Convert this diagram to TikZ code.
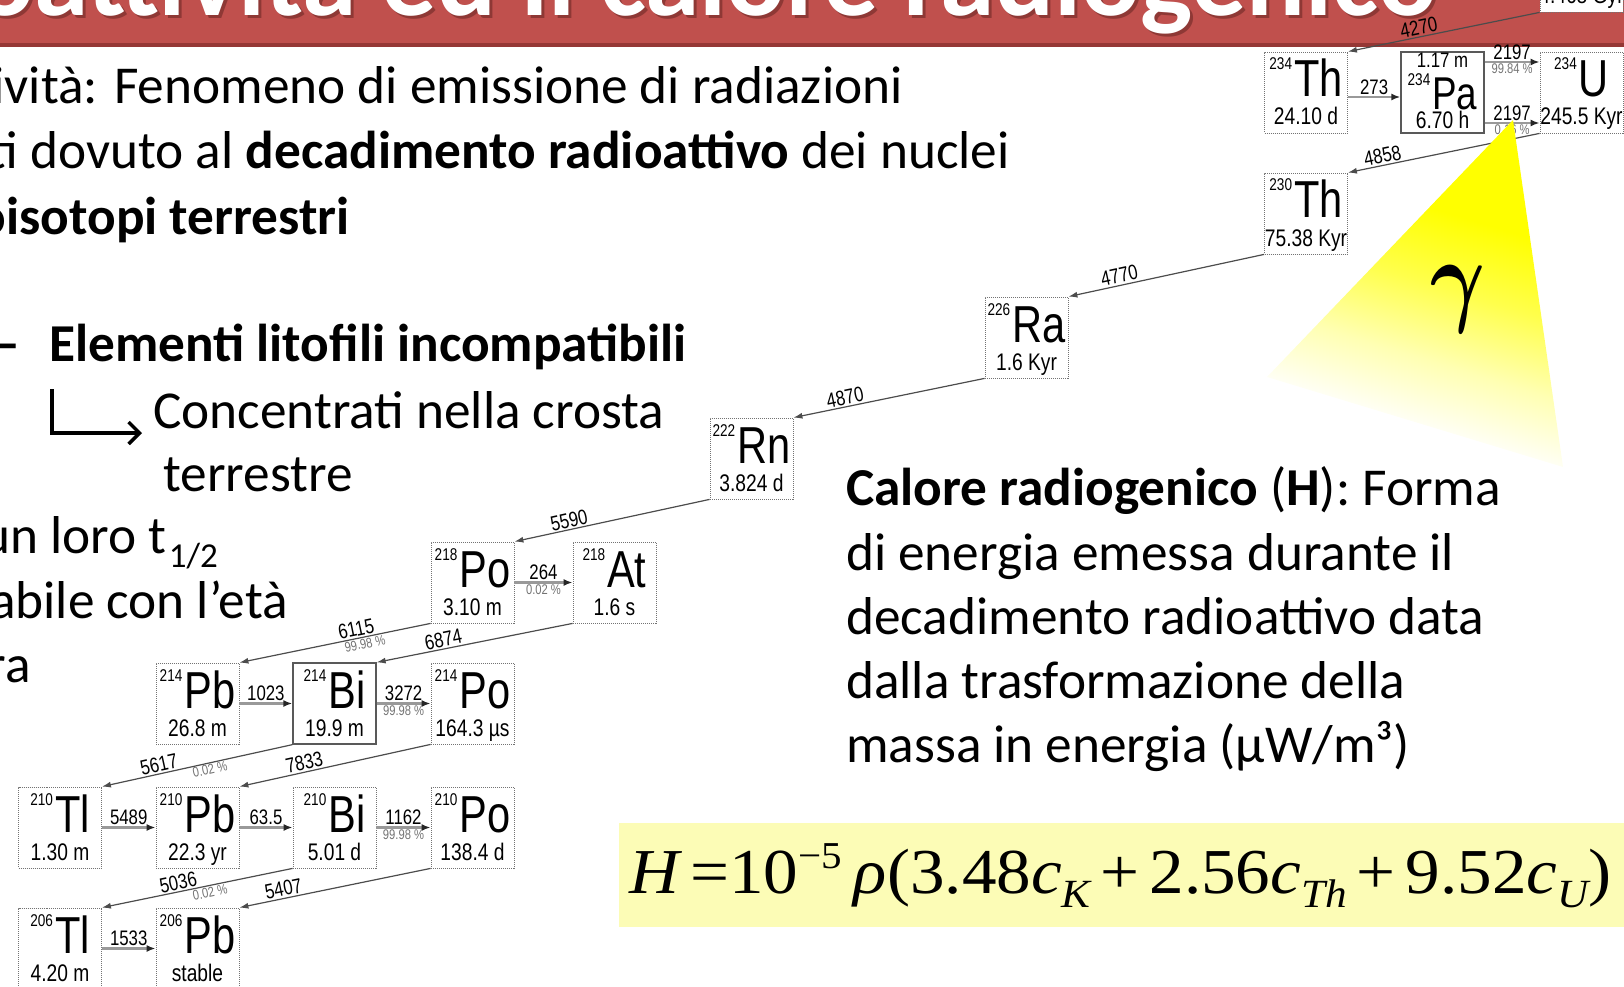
\documentclass[tikz,border=0pt]{standalone}
\usepackage{fontspec}
\setmainfont{Carlito}
\newfontfamily\arialfont[FakeStretch=0.8]{Liberation Sans}
\newfontfamily\timesfont[FakeStretch=1.08]{Liberation Serif}
\usetikzlibrary{arrows.meta, positioning, calc}
\definecolor{titlered}{HTML}{C0504D}
\definecolor{titledark}{HTML}{953735}
\definecolor{shadowred}{HTML}{6E2826}
\definecolor{formulayellow}{HTML}{FCFCB6}
\definecolor{coneyellow}{HTML}{FFFF00}
\pgfdeclareverticalshading{conefade}{100bp}{color(0bp)=(white); color(30bp)=(white);
  color(41bp)=(coneyellow!30); color(52bp)=(coneyellow!70); color(63bp)=(coneyellow); color(100bp)=(coneyellow)}

% one box of the decay chain: [box style] name, x, y, mass number, symbol, half-life
\newcommand{\nuclide}[7][isobox]{%
  \node[#1] (#2) at (#3,#4) {};
  \node[isosym] (#2-s) at ([yshift=-4.5pt]#2.center) {\raisebox{27pt}{\fontsize{17}{17}\selectfont #5}\hspace{2pt}#6};
  \node[isotime] (#2-t) at ([yshift=-32.5pt]#2.center) {#7};
}

\begin{document}
\begin{tikzpicture}[x=1pt, y=-1pt,
    isobox/.style={draw=black!55, dash pattern=on 1pt off 1pt, line width=0.8pt, fill=white,
      minimum width=83pt, minimum height=81pt, inner sep=0pt},
    solidbox/.style={isobox, solid, draw=black!65, line width=1.3pt},
    isosym/.style={anchor=base, inner sep=0pt, font=\arialfont\fontsize{52}{52}\selectfont},
    isotime/.style={anchor=base, inner sep=0pt, font=\arialfont\fontsize{24}{24}\selectfont},
    decay/.style={draw=black!70, line width=1.2pt, -{Latex[length=9pt,width=6pt]}},
    hdecay/.style={draw=black!40, line width=2.4pt, -{Latex[length=9pt,width=7pt,color=black!85]}},
    elab/.style={inner sep=1.5pt, font=\arialfont\fontsize{21}{21}\selectfont},
    plab/.style={inner sep=1pt, text=black!55, font=\arialfont\fontsize{14}{14}\selectfont},
    body/.style={inner sep=0pt, font=\fontsize{53.3}{64}\selectfont},
    title/.style={anchor=base east, inner sep=0pt, font=\bfseries\fontsize{110}{110}\selectfont},
    elbow/.style={line width=3.5pt, -{Straight Barb[length=11pt,width=22pt]}}]
    \useasboundingbox (0,0) rectangle (1624,987);
    \clip (0,0) rectangle (1624,987);

    % ── TITLE BAND ────────────────────────────────────────────────────
    \fill[titlered] (0,0) rectangle (1624,43);
    \fill[titledark] (0,43) rectangle (1624,47);
    \node[title, text=shadowred, opacity=0.6] (titleshadow) at (1440,19) {ioattività ed il calore radiogenico};
    \node[title, text=white] (title) at (1437,16) {ioattività ed il calore radiogenico};

    % ── LEFT TEXT ─────────────────────────────────────────────────────
    \node[body, anchor=base east] (line1) at (903,104) {ività: Fenomeno di emissione di radiazioni};
    \node[body, anchor=base east] (line2) at (1010,169) {ti dovuto al \textbf{decadimento radioattivo} dei nuclei};
    \node[body, anchor=base east] (line3) at (350,234) {\textbf{oisotopi terrestri}};
    \node[body, anchor=base east] (dash) at (20,361) {\textbf{–}};
    \node[body, anchor=base west] (elementi) at (49,361) {\textbf{Elementi litofili incompatibili}};
    \node[body, anchor=base west] (concentrati) at (153,428) {Concentrati nella crosta};
    \node[body, anchor=base west] (terrestre) at (163,491) {terrestre};
    \node[body, anchor=base east] (thalf) at (218,553) {un loro t\hspace{2pt}\raisebox{-14pt}{\fontsize{35}{35}\selectfont 1/2}};
    \node[body, anchor=base east] (eta) at (288,618) {abile con l’età};
    \node[body, anchor=base east] (ra) at (31,682) {ra};

    \coordinate (elbowtop) at (52,389);
    \draw[elbow] (elbowtop) |- ([xshift=-11pt,yshift=-5pt]concentrati.base west);

    % ── RIGHT TEXT ────────────────────────────────────────────────────
    \node[body, anchor=base west] (cal1) at (846,505) {\textbf{Calore radiogenico} (\textbf{H}): Forma};
    \node[body, anchor=base west] (cal2) at (846,570) {di energia emessa durante il};
    \node[body, anchor=base west] (cal3) at (846,634) {decadimento radioattivo data};
    \node[body, anchor=base west] (cal4) at (846,698) {dalla trasformazione della};
    \node[body, anchor=base west] (cal5) at (846,762) {massa in energia (µW/m³)};

    % Formula
    \fill[formulayellow] (619,823) rectangle (1630,927);
    \node[anchor=base west, inner sep=0pt, font=\timesfont\fontsize{64}{64}\selectfont] (formula) at (629,893)
      {\textit{H}\hspace{8pt}=10\raisebox{25pt}{\fontsize{38}{38}\selectfont −5}\hspace{12pt}\textit{ρ}(3.48\textit{c}\raisebox{-14pt}{\fontsize{40}{40}\selectfont\itshape K}\hspace{10pt}+\hspace{10pt}2.56\textit{c}\raisebox{-14pt}{\fontsize{40}{40}\selectfont\itshape Th}\hspace{10pt}+\hspace{10pt}9.52\textit{c}\raisebox{-14pt}{\fontsize{40}{40}\selectfont\itshape U})};

    % ── DECAY CHAIN ───────────────────────────────────────────────────
    \node[isobox] (u238) at (1581.5,-28.5) {};
    \node[isotime] (u238-t) at ([yshift=-32.5pt]u238.center) {4.468 Gyr};

    \nuclide{th234}{1306}{92.5}{234}{Th}{24.10 d}
    \node[solidbox] (pa234) at (1442.5,92.5) {};
    \node[isotime, font=\arialfont\fontsize{21}{21}\selectfont] (pa234-m) at ([yshift=24.5pt]pa234.center) {1.17 m};
    \node[isosym, font=\arialfont\fontsize{46}{46}\selectfont] (pa234-s) at ([yshift=-17.5pt]pa234.center) {\raisebox{24pt}{\fontsize{17}{17}\selectfont 234}\hspace{2pt}Pa};
    \node[isotime] (pa234-t) at ([yshift=-36.5pt]pa234.center) {6.70 h};
    \nuclide{u234}{1581.5}{92.5}{234}{U}{245.5 Kyr}
    \nuclide{th230}{1306}{213.5}{230}{Th}{75.38 Kyr}
    \nuclide{ra226}{1026.5}{337.5}{226}{Ra}{1.6 Kyr}
    \nuclide{rn222}{751.5}{458.5}{222}{Rn}{3.824 d}
    \nuclide{po218}{472.5}{582.5}{218}{Po}{3.10 m}
    \nuclide{at218}{614.5}{582.5}{218}{At}{1.6 s}
    \nuclide{pb214}{197.5}{703.5}{214}{Pb}{26.8 m}
    \nuclide[solidbox]{bi214}{334.5}{703.5}{214}{Bi}{19.9 m}
    \nuclide{po214}{472.5}{703.5}{214}{Po}{164.3 µs}
    \nuclide{tl210}{60}{827.5}{210}{Tl}{1.30 m}
    \nuclide{pb210}{197.5}{827.5}{210}{Pb}{22.3 yr}
    \nuclide{bi210}{334.5}{827.5}{210}{Bi}{5.01 d}
    \nuclide{po210}{472.5}{827.5}{210}{Po}{138.4 d}
    \nuclide{tl206}{60}{948.5}{206}{Tl}{4.20 m}
    \nuclide{pb206}{197.5}{948.5}{206}{Pb}{stable}

    % alpha decays (slanted)
    \draw[decay] (u238.south west) -- node[elab, pos=0.62, above, sloped] (e4270) {4270} (th234.north east);
    \draw[decay] (u234.south west) -- node[elab, pos=0.81, above, sloped] (e4858) {4858} (th230.north east);
    \draw[decay] (th230.south west) -- node[elab, pos=0.73, above, sloped] (e4770) {4770} (ra226.north east);
    \draw[decay] (ra226.south west) -- node[elab, pos=0.72, above, sloped] (e4870) {4870} (rn222.north east);
    \draw[decay] (rn222.south west) -- node[elab, pos=0.71, above, sloped] (e5590) {5590} (po218.north east);
    \draw[decay] (po218.south west) -- node[elab, pos=0.38, above, sloped] (e6115) {6115}
      node[plab, pos=0.35, below, sloped] (p6115) {99.98 \%} (pb214.north east);
    \draw[decay] (at218.south west) -- node[elab, pos=0.65, above, sloped] (e6874) {6874} (bi214.north east);
    \draw[decay] (bi214.south west) -- node[elab, pos=0.69, above, sloped] (e5617) {5617}
      node[plab, pos=0.44, below, sloped] (p5617) {0.02 \%} (tl210.north east);
    \draw[decay] (po214.south west) -- node[elab, pos=0.65, above, sloped] (e7833) {7833} (pb210.north east);
    \draw[decay] (bi210.south west) -- node[elab, pos=0.59, above, sloped] (e5036) {5036}
      node[plab, pos=0.44, below, sloped] (p5036) {0.02 \%} (tl206.north east);
    \draw[decay] (po210.south west) -- node[elab, pos=0.76, above, sloped] (e5407) {5407} (pb206.north east);

    % beta decays (horizontal)
    \draw[hdecay] ([yshift=-4.5pt]th234.east) -- node[elab, above] (e273) {273} ([yshift=-4.5pt]pa234.west);
    \draw[hdecay] ([yshift=30.5pt]pa234.east) -- node[elab, above] (e2197a) {2197}
      node[plab, below] (p2197a) {99.84 \%} ([yshift=30.5pt]u234.west);
    \draw[hdecay] ([yshift=-30.5pt]pa234.east) -- node[elab, above] (e2197b) {2197}
      node[plab, below] (p2197b) {0.16 \%} ([yshift=-30.5pt]u234.west);
    \draw[hdecay] (po218.east) -- node[elab, above] (e264) {264} node[plab, below] (p264) {0.02 \%} (at218.west);
    \draw[hdecay] (pb214.east) -- node[elab, above] (e1023) {1023} (bi214.west);
    \draw[hdecay] (bi214.east) -- node[elab, above] (e3272) {3272} node[plab, below] (p3272) {99.98 \%} (po214.west);
    \draw[hdecay] (tl210.east) -- node[elab, above] (e5489) {5489} (pb210.west);
    \draw[hdecay] (pb210.east) -- node[elab, above] (e635) {63.5} (bi210.west);
    \draw[hdecay] (bi210.east) -- node[elab, above] (e1162) {1162} node[plab, below] (p1162) {99.98 \%} (po210.west);
    \draw[hdecay] (tl206.east) -- node[elab, above] (e1533) {1533} (pb206.west);

    % ── GAMMA CONE ────────────────────────────────────────────────────
    \shade[shading=conefade, shading angle=-17] (1513,120) -- (1267,377) -- (1563,467) -- cycle;
    \node[inner sep=0pt] (gamma) at (1458,299) {\scalebox{8.4}[10.5]{\boldmath$\gamma$}};
\end{tikzpicture}
\end{document}
